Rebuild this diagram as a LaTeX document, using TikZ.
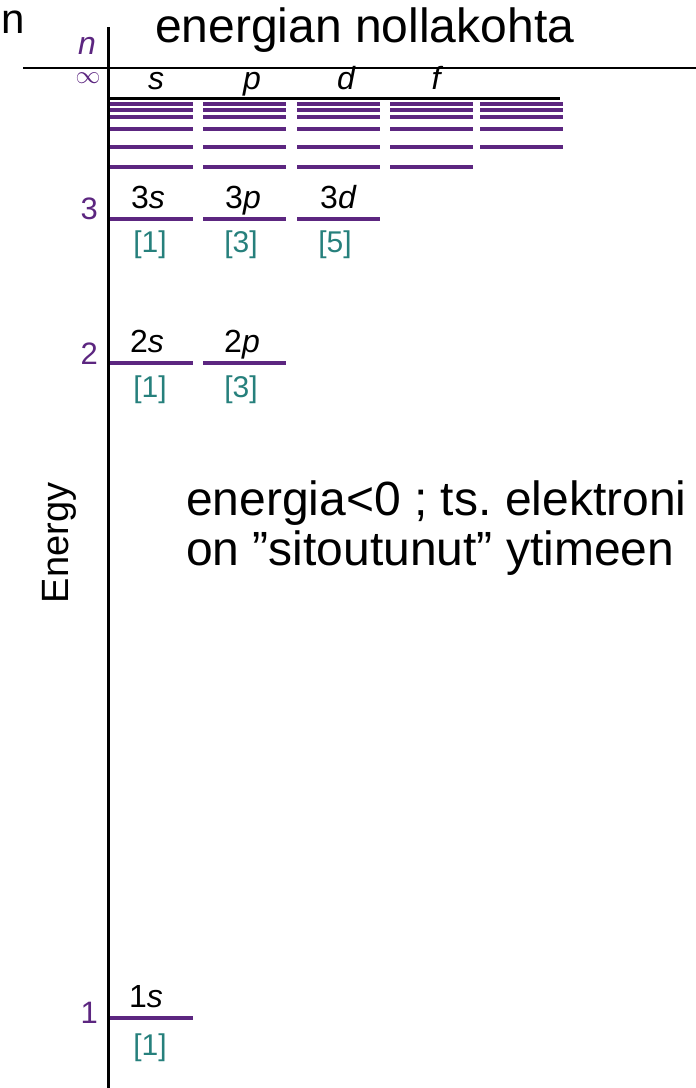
\documentclass[tikz,border=0pt]{standalone}
\usepackage{fontspec}
\setmainfont{Liberation Sans}
\usetikzlibrary{calc}

\definecolor{lvlpurple}{RGB}{92,38,128}
\definecolor{degteal}{RGB}{38,128,124}

\tikzset{
  level/.style={draw=lvlpurple, line width=3.5pt},
  orbital/.style={font=\fontsize{32}{32}\selectfont\itshape, anchor=base},
  degen/.style={text=degteal, font=\fontsize{30}{30}\selectfont, anchor=base},
  nlabel/.style={text=lvlpurple, font=\fontsize{31}{31}\selectfont, anchor=base east, inner sep=0pt},
  bigtext/.style={font=\fontsize{48}{58}\selectfont, anchor=base west, inner sep=0pt}
}

\begin{document}
\frenchspacing
\begin{tikzpicture}[x=1pt,y=-1pt]
  \useasboundingbox (0,0) rectangle (696,1088);

  % axes
  \coordinate (top) at (108,27);
  \coordinate (bot) at (108,1088);
  \draw[line width=3pt] (top) -- (bot);
  \draw[line width=1.5pt] (23,68) -- (696,68);
  \draw[line width=3pt] (108,98) -- (560,98);

  % column starts: s, p, d, f, g
  \def\cw{83}

  % high levels crowding towards the limit
  \foreach \y in {104,110,117,129,147,167} {
    \foreach \x in {110,203,297,390} {
      \draw[level] (\x,\y) -- ++(\cw,0);
    }
  }
  \foreach \y in {104,110,117,129,147} {
    \draw[level] (480,\y) -- ++(\cw,0);
  }

  % n = 3
  \draw[level] (110,219) -- ++(\cw,0);
  \draw[level] (203,219) -- ++(\cw,0);
  \draw[level] (297,219) -- ++(\cw,0);
  % n = 2
  \draw[level] (110,363) -- ++(\cw,0);
  \draw[level] (203,363) -- ++(\cw,0);
  % n = 1
  \draw[level] (110,1018) -- ++(\cw,0);

  % header
  \node[bigtext, font=\fontsize{42}{50}\selectfont] (cutn) at (1,33) {n};
  \node[bigtext] (zero) at (155,42) {energian nollakohta};
  \node[text=lvlpurple, font=\fontsize{32}{32}\selectfont\itshape, anchor=base, inner sep=0pt] (nsym) at (87,54) {n};
  \node[text=lvlpurple, font=\fontsize{25}{25}\selectfont, inner sep=0pt] (inf) at (88,78) {$\infty$};
  \node[orbital] (cs) at (156,89) {s};
  \node[orbital] (cp) at (252,89) {p};
  \node[orbital] (cd) at (346,89) {d};
  \node[orbital] (cf) at (436,89) {f};

  % shell numbers
  \node[nlabel] (n3) at (98,219) {3};
  \node[nlabel] (n2) at (98,364) {2};
  \node[nlabel] (n1) at (98,1023) {1};

  % subshell names and degeneracies
  \node[orbital] (o3s) at (148,208) {\upshape 3\itshape s};
  \node[orbital] (o3p) at (243,208) {\upshape 3\itshape p};
  \node[orbital] (o3d) at (338,208) {\upshape 3\itshape d};
  \node[degen] (g3s) at (150,252) {[1]};
  \node[degen] (g3p) at (241,252) {[3]};
  \node[degen] (g3d) at (335,252) {[5]};

  \node[orbital] (o2s) at (147,352) {\upshape 2\itshape s};
  \node[orbital] (o2p) at (242,352) {\upshape 2\itshape p};
  \node[degen] (g2s) at (150,397) {[1]};
  \node[degen] (g2p) at (241,397) {[3]};

  \node[orbital] (o1s) at (146,1007) {\upshape 1\itshape s};
  \node[degen] (g1s) at (150,1055) {[1]};

  % axis title and note
  \node[rotate=90, font=\fontsize{38}{38}\selectfont] (energy) at (59,543) {Energy};
  \node[bigtext] (bound1) at (186,515) {energia<0 ; ts. elektroni};
  \node[bigtext] (bound2) at (186,565) {on ”sitoutunut” ytimeen};
\end{tikzpicture}
\end{document}
